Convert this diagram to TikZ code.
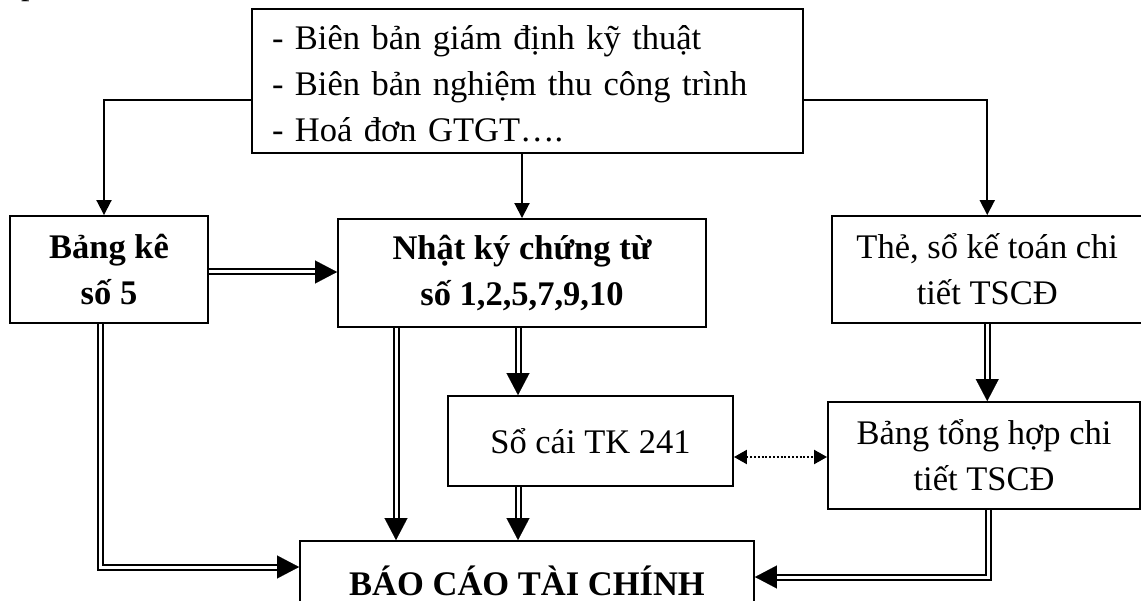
\documentclass[tikz,border=0pt]{standalone}
\usepackage{fontspec}
\setmainfont{Liberation Serif}
\usetikzlibrary{arrows.meta,calc}
\begin{document}
\begin{tikzpicture}[x=1pt,y=-1pt,
  box/.style={draw,line width=1.9pt,rectangle,inner sep=0pt,align=center,
    font=\fontsize{34.5}{46}\selectfont},
  bbox/.style={box,font=\fontsize{34.5}{46}\selectfont\bfseries},
  sgl/.style={line width=1.9pt,-{Triangle[length=15pt,width=15pt]}},
  dbl/.style={double,line width=2pt,double distance=3pt,shorten >=20pt},
  dtip/.style={line width=0.1pt,-{Triangle[length=22pt,width=23pt]}},
  dotarrow/.style={line width=2.2pt,dash pattern=on 2pt off 1.8pt,
    {Triangle[length=13pt,width=14pt]}-{Triangle[length=13pt,width=14pt]}}
]
\useasboundingbox (0,0) rectangle (1141,601);
\clip (0,0) rectangle (1141,601);

\node[anchor=base west,inner sep=0pt,font=\fontsize{34}{46}\selectfont] (frag) at (21,-5) {p};

\node[box,minimum width=551pt,minimum height=144pt,text width=511pt,align=left,inner xsep=20pt] (top) at (527.5,81)
  {\rule{0pt}{30pt}- Biên bản giám định kỹ thuật\\- Biên bản nghiệm thu công trình\\- Hoá đơn GTGT….};
\node[bbox,minimum width=198pt,minimum height=107pt] (bk) at (109,269.5) {Bảng kê\\số 5};
\node[bbox,minimum width=368pt,minimum height=108pt] (nk) at (522,273) {Nhật ký chứng từ\\số 1,2,5,7,9,10};
\node[box,minimum width=310.5pt,minimum height=107pt] (the) at (987.25,269.5) {Thẻ, sổ kế toán chi\\tiết TSCĐ};
\node[box,minimum width=285pt,minimum height=90pt] (sc) at (590.5,441) {Sổ cái TK 241};
\node[box,minimum width=312pt,minimum height=107pt] (bth) at (984,455.5) {Bảng tổng hợp chi\\tiết TSCĐ};
\node[bbox,minimum width=454pt,minimum height=80pt] (bc) at (527,581) {BÁO CÁO TÀI CHÍNH};

% single arrows from top box
\draw[sgl] ([yshift=-19pt]top.west) -| ([xshift=-5pt]bk.north);
\draw[sgl] (top.south -| nk.north) -- (nk.north);
\draw[sgl] ([yshift=-19pt]top.east) -| (the.north);

% bk -> nk
\draw[dbl] ([yshift=-2.5pt]bk.east) -- ([yshift=-2.5pt]bk.east -| nk.west);
\draw[dtip] ([yshift=-2.5pt,xshift=-1pt]bk.east -| nk.west) -- ([yshift=-2.5pt]bk.east -| nk.west);

% bk -> bc
\draw[dbl] ([xshift=-9pt]bk.south) |- ([yshift=14pt]bc.west);
\draw[dtip] ([yshift=14pt,xshift=-1pt]bc.west) -- ([yshift=14pt]bc.west);

% nk -> bc
\draw[dbl] ([xshift=-126pt]nk.south) -- ([xshift=-126pt]nk.south |- bc.north);
\draw[dtip] ([xshift=-126pt,yshift=1pt]nk.south |- bc.north) -- ([xshift=-126pt]nk.south |- bc.north);

% nk -> sc
\draw[dbl] ([xshift=-4pt]nk.south) -- ([xshift=-4pt]nk.south |- sc.north);
\draw[dtip] ([xshift=-4pt,yshift=1pt]nk.south |- sc.north) -- ([xshift=-4pt]nk.south |- sc.north);

% sc -> bc
\draw[dbl] ([xshift=-4pt]nk.south |- sc.south) -- ([xshift=-4pt]nk.south |- bc.north);
\draw[dtip] ([xshift=-4pt,yshift=1pt]nk.south |- bc.north) -- ([xshift=-4pt]nk.south |- bc.north);

% sc <-> bth
\draw[dotarrow] ([yshift=-1.5pt]bth.west -| sc.east) -- ([yshift=-1.5pt]bth.west);

% the -> bth
\draw[dbl] (the.south) -- (the.south |- bth.north);
\draw[dtip] ([yshift=1pt]the.south |- bth.north) -- (the.south |- bth.north);

% bth -> bc
\draw[dbl] ([xshift=4pt]bth.south) |- ([yshift=4pt]bc.east);
\draw[dtip] ([yshift=4pt,xshift=1pt]bc.east) -- ([yshift=4pt]bc.east);
\end{tikzpicture}
\end{document}
